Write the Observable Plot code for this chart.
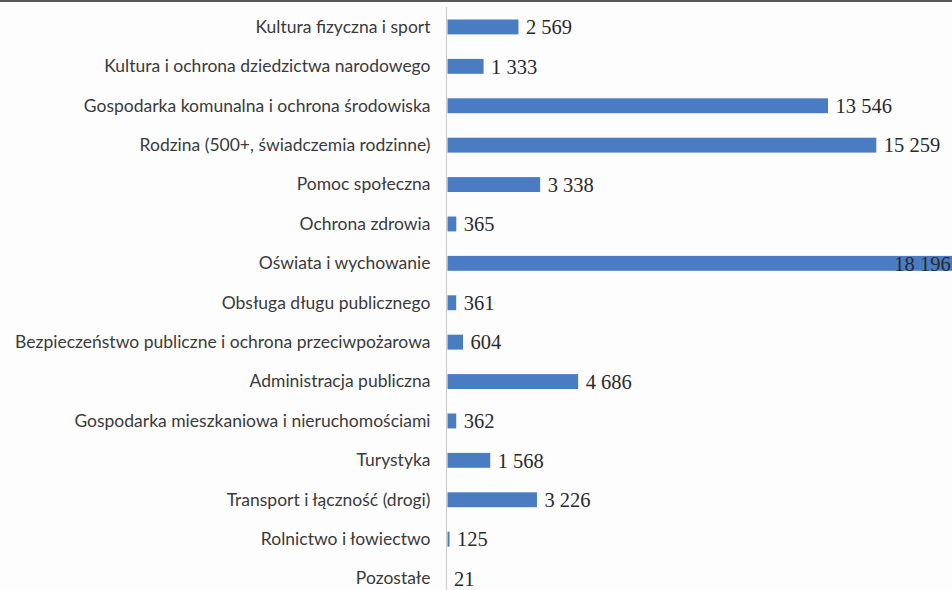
<!DOCTYPE html>
<html>
<head>
<meta charset="utf-8">
<script src="https://cdn.jsdelivr.net/npm/d3@7"></script>
<script src="https://cdn.jsdelivr.net/npm/@observablehq/plot@0.6"></script>
<style>
  html, body { margin: 0; padding: 0; background: #fdfdfd; overflow: hidden; width: 952px; height: 590px; }
  #top { height: 2px; background: #5a5a5a; width: 952px; }
  #chart svg { display: block; background: #fdfdfd; }
</style>
</head>
<body>
<div id="top"></div>
<div id="chart"></div>
<script>
const categories = [
  "Kultura fizyczna i sport",
  "Kultura i ochrona dziedzictwa narodowego",
  "Gospodarka komunalna i ochrona środowiska",
  "Rodzina (500+, świadczemia rodzinne)",
  "Pomoc społeczna",
  "Ochrona zdrowia",
  "Oświata i wychowanie",
  "Obsługa długu publicznego",
  "Bezpieczeństwo publiczne i ochrona przeciwpożarowa",
  "Administracja publiczna",
  "Gospodarka mieszkaniowa i nieruchomościami",
  "Turystyka",
  "Transport i łączność (drogi)",
  "Rolnictwo i łowiectwo",
  "Pozostałe"
];
const values = [2569, 1333, 13546, 15259, 3338, 365, 18196, 361, 604, 4686, 362, 1568, 3226, 125, 21];

const data = categories.map((c, i) => ({category: c, value: values[i]}));
const fmt = v => d3.format(",")(v).replace(/,/g, " ");
const maxV = d3.max(values);
const inside = data.filter(d => d.value === maxV);
const outside = data.filter(d => d.value !== maxV);

const chart = Plot.plot({
  width: 952,
  height: 600,
  marginLeft: 446,
  marginRight: 0,
  marginTop: 5,
  marginBottom: 4,
  style: {background: "#fdfdfd", overflow: "visible"},
  x: {domain: [0, 17943], axis: null},
  y: {domain: categories, padding: 0, round: false, label: null},
  marks: [
    Plot.axisY({tickSize: 0, tickPadding: 16, fontSize: 17.5, fill: "#3a3a3a", label: null,
      fontFamily: "Lato, 'Open Sans', sans-serif"}),
    Plot.ruleX([0], {stroke: "#cfcfcf", strokeWidth: 1.2}),
    Plot.barX(data, {x: "value", y: "category", fill: "#4a7cc4", insetTop: 12.5, insetBottom: 12, insetLeft: 1.5}),
    Plot.text(outside, {x: "value", y: "category", text: d => fmt(d.value), textAnchor: "start", dx: 7, dy: 0.5,
      fontSize: 20.5, fontFamily: "'Liberation Serif', 'Times New Roman', serif", fill: "#2a2a2a"}),
    Plot.text(inside, {x: "value", y: "category", text: d => fmt(d.value), textAnchor: "end", dx: -9, dy: 0.5,
      fontSize: 20.5, fontFamily: "'Liberation Serif', 'Times New Roman', serif", fill: "#2a2a2a"})
  ]
});
document.getElementById("chart").appendChild(chart);
</script>
</body>
</html>
